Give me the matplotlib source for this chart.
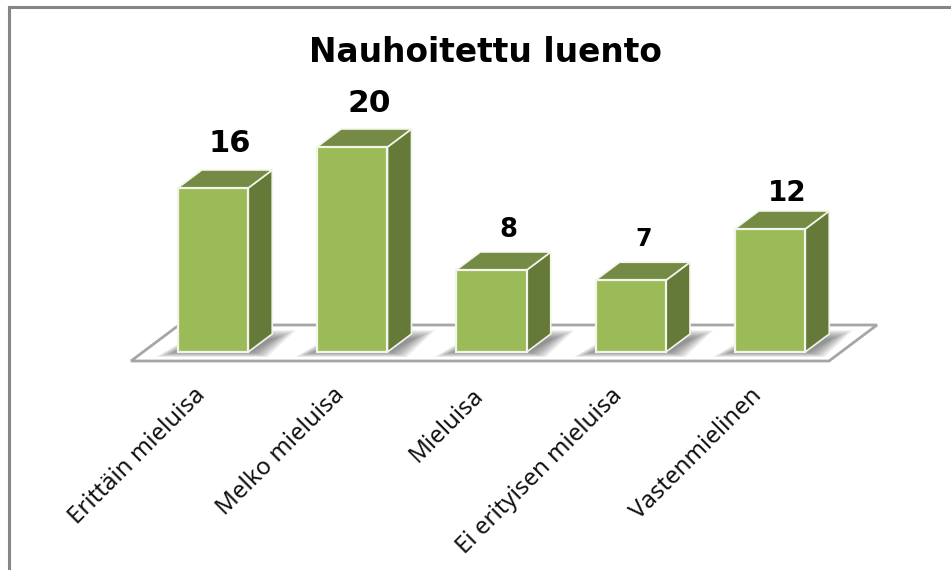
import numpy as np
from matplotlib import pyplot as plt
from matplotlib.lines import Line2D
from matplotlib.patches import Polygon
from matplotlib.transforms import ScaledTranslation

plt.rcParams['font.family'] = ['DejaVu Sans']

categories = ['Erittäin mieluisa', 'Melko mieluisa', 'Mieluisa', 'Ei erityisen mieluisa', 'Vastenmielinen']
values = [16, 20, 8, 7, 12]
label_sizes = [22, 22.5, 18.5, 17, 20]
label_gaps = [26, 26, 22, 23, 18]
label_shifts = [5, 5, 5, 1, 5]

W, H = 951, 570
front = '#9bbb59'
top = '#748a45'
side = '#657a38'
edge = '#f3f5ea'

fig = plt.figure(figsize=(W / 100, H / 100), dpi=100)

# frame of the pasted chart, only top and left show in the screenshot
fig.add_artist(Line2D([9 / W, 9 / W], [0, 1 - 7 / H], color='#868686', lw=2.2, solid_capstyle='projecting'))
fig.add_artist(Line2D([9 / W, 1], [1 - 7 / H, 1 - 7 / H], color='#868686', lw=2.2))

# axes = the floor box, baseline is 9 px above its lower edge
ax = fig.add_axes([131 / W, 1 - 361 / H, (877 - 131) / W, (361 - 100) / H])
px_x = 139.25
px_y = 10.25
ax.set_xlim((131 - 213) / px_x, (877 - 213) / px_x)
ax.set_ylim(-9 / px_y, 252 / px_y)
dx = 24 / px_x
dy = 18 / px_y
bar_w = 0.506

x = np.arange(len(values))

# floor
x0, x1 = ax.get_xlim()
y0 = ax.get_ylim()[0]
floor_h = 36 / px_y
ax.add_patch(Polygon([(x0, y0), (x1 - 48 / px_x, y0), (x1, y0 + floor_h), (x0 + 48 / px_x, y0 + floor_h)],
                     fc='white', ec='#a6a6a6', lw=2, zorder=1, clip_on=False))

# soft shadows on the floor
for xi in x:
    l, r = xi - bar_w / 2, xi + bar_w / 2
    for t in np.linspace(1, 0, 20):
        low = -(5 * t) / px_y
        high = dy + (-5 + 9 * t) / px_y
        ax.add_patch(Polygon([(l - (2 + 20 * t) / px_x, low), (r + (3 + 17 * t) / px_x, low),
                              (r + dx + (2 + 22 * t) / px_x, high), (l + dx, high)],
                             fc='#555555', ec='none', alpha=0.045, zorder=2, lw=0))

bars = ax.bar(x, values, bar_w, color=front, edgecolor=edge, linewidth=1.6, zorder=4)

for b, v, fs, gap, shift in zip(bars, values, label_sizes, label_gaps, label_shifts):
    l, r = b.get_x(), b.get_x() + b.get_width()
    ax.add_patch(Polygon([(r, 0), (r + dx, dy), (r + dx, v + dy), (r, v)],
                         fc=side, ec=edge, lw=1.2, zorder=3))
    ax.add_patch(Polygon([(l, v), (r, v), (r + dx, v + dy), (l + dx, v + dy)],
                         fc=top, ec=edge, lw=1.2, zorder=3))
    ax.text((l + r) / 2 + dx / 2 + shift / px_x, v + dy + gap / px_y, str(v), ha='center', va='center',
            fontsize=fs, fontweight='bold', color='black')

ax.set_xticks(x)
ax.set_xticklabels(categories, rotation=45, ha='right', rotation_mode='anchor',
                   fontsize=17.3, family='Noto Sans', color='#111111')
ax.tick_params(axis='x', length=0, pad=14)
shift_left = ScaledTranslation(-20 / 100, -3 / 100, fig.dpi_scale_trans)
for lab in ax.get_xticklabels():
    lab.set_transform(lab.get_transform() + shift_left)
ax.set_yticks([])
for s in ax.spines.values():
    s.set_visible(False)
ax.patch.set_visible(False)

fig.text(485 / W, 1 - 52 / H, 'Nauhoitettu luento', ha='center', va='center',
         fontsize=23.7, fontweight='bold', color='black')

fig.savefig('out.png', dpi=100)
